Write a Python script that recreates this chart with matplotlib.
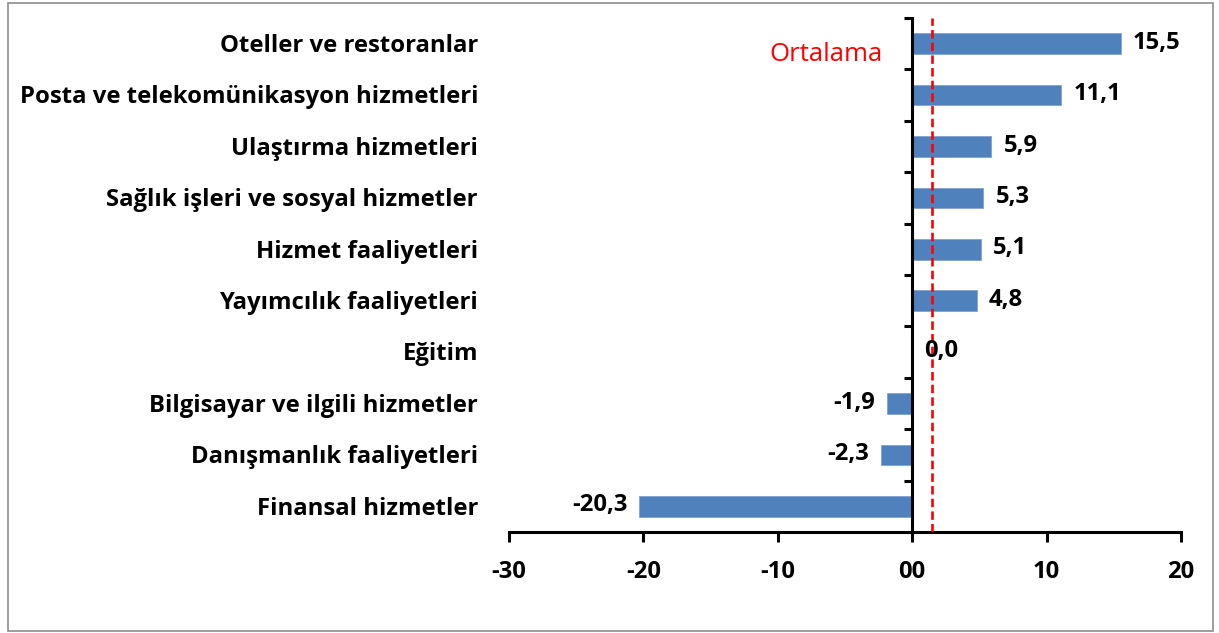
import numpy as np
import matplotlib.pyplot as plt
import matplotlib.transforms as mtransforms
from matplotlib.patches import Rectangle

# Data
categories = ["Oteller ve restoranlar", "Posta ve telekomünikasyon hizmetleri",
              "Ulaştırma hizmetleri", "Sağlık işleri ve sosyal hizmetler",
              "Hizmet faaliyetleri", "Yayımcılık faaliyetleri", "Eğitim",
              "Bilgisayar ve ilgili hizmetler", "Danışmanlık faaliyetleri",
              "Finansal hizmetler"]
values = [15.5, 11.1, 5.9, 5.3, 5.1, 4.8, 0.0, -1.9, -2.3, -20.3]
average = 1.5
xticks = [-30, -20, -10, 0, 10, 20]
xtick_labels = ["-30", "-20", "-10", "00", "10", "20"]

FONT = "Open Sans"
FS = 17.2
BAR_COLOR = "#4F81BD"

fig = plt.figure(figsize=(12.19, 6.33), dpi=100)
ax = fig.add_axes([509 / 1219, 1 - 532 / 633, 672 / 1219, 514 / 633])

y = np.arange(len(categories))
ax.barh(y, values, height=0.4, color=BAR_COLOR, edgecolor="#7FA3D0", linewidth=0.6, zorder=2)
ax.set_xlim(-30, 20)
ax.set_ylim(len(categories) - 0.5, -0.5)

# average line
ax.axvline(average, color="#FF0000", linestyle=(0, (3.2, 1.6)), linewidth=1.9, zorder=3)
ax.text(average - 3.7, 0.34, "Ortalama", color="#FF0000", fontsize=18.5,
        family=FONT, ha="right", va="baseline")

# spines
for s in ["top", "right"]:
    ax.spines[s].set_visible(False)
ax.spines["left"].set_position(("data", 0))
ax.spines["left"].set_linewidth(2.2)
ax.spines["bottom"].set_linewidth(2.2)

ax.set_yticks([])
ax.set_yticks(np.arange(-0.5, len(categories), 1), minor=True)
ax.tick_params(axis="y", which="minor", direction="out", length=6, width=2.2)
ax.set_xticks(xticks)
ax.set_xticklabels(xtick_labels, fontsize=FS, fontweight="bold", family=FONT)
ax.tick_params(axis="x", direction="out", length=7, width=2.2, pad=13)

# category labels
trans = mtransforms.blended_transform_factory(ax.transAxes, ax.transData)
for yi, name in zip(y, categories):
    ax.text(-31 / 672, yi + 0.16, name, transform=trans, ha="right", va="baseline",
            fontsize=FS, fontweight="bold", family=FONT)

# value labels
offset = 12 / 672 * 50
for yi, v in zip(y, values):
    lbl = f"{v:.1f}".replace(".", ",")
    if v >= 0:
        ax.text(v + offset, yi + 0.1, lbl, ha="left", va="baseline",
                fontsize=FS, fontweight="bold", family=FONT)
    else:
        ax.text(v - offset, yi + 0.1, lbl, ha="right", va="baseline",
                fontsize=FS, fontweight="bold", family=FONT)

# outer frame
fig.patches.append(Rectangle((8 / 1219, 2 / 633), 1205 / 1219, 628 / 633,
                             transform=fig.transFigure, fill=False,
                             edgecolor="#8C8C8C", linewidth=1.2))

fig.savefig("out.png", dpi=100)
